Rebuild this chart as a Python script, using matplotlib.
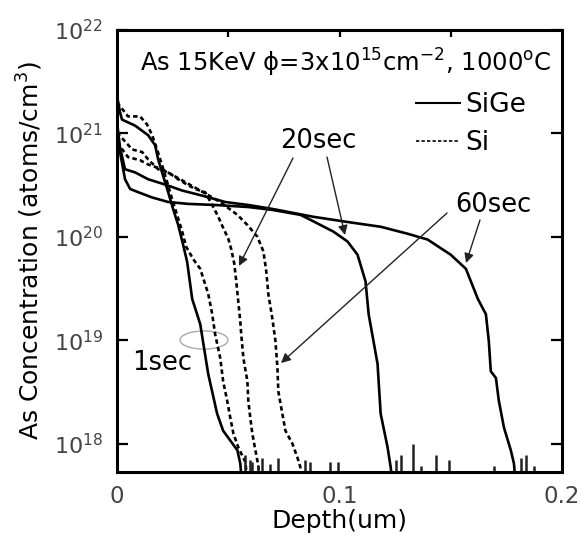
import matplotlib
matplotlib.use("Agg")
import matplotlib.pyplot as plt
from matplotlib.lines import Line2D
from matplotlib.patches import Ellipse

plt.rcParams['font.family'] = ['DejaVu Sans']
plt.rcParams['mathtext.fontset'] = 'dejavusans'
plt.rcParams['mathtext.default'] = 'regular'

# ---------------- data (depth in um, concentration in atoms/cm^3) ----------------
sige_1s_depth = [0, 0.00135, 0.00225, 0.0081, 0.0140, 0.0171, 0.0185, 0.0207, 0.0230, 0.0252,
                 0.0275, 0.0297, 0.0315, 0.0338, 0.0374, 0.0410, 0.0450, 0.0477, 0.0541, 0.0554, 0.0560]
sige_1s_conc = [2.3e21, 1.6e21, 1.36e21, 1.19e21, 9.6e20, 7.7e20, 5.6e20, 3.9e20, 2.7e20, 1.86e20,
                1.3e20, 8.4e19, 5.75e19, 2.5e19, 1.43e19, 4.7e18, 1.94e18, 1.33e18, 8.6e17, 6.4e17, 4.5e17]

sige_20s_depth = [0, 0.00135, 0.0036, 0.0059, 0.0095, 0.0158, 0.0230, 0.0320, 0.0441, 0.0590, 0.0698,
                  0.0824, 0.0869, 0.0973, 0.1036, 0.1081, 0.1117, 0.1131, 0.1171, 0.1185, 0.1216, 0.1230, 0.1236]
sige_20s_conc = [1.02e21, 6.6e20, 3.6e20, 2.9e20, 2.7e20, 2.4e20, 2.17e20, 2.08e20, 2.03e20, 1.94e20, 1.82e20,
                 1.63e20, 1.46e20, 1.12e20, 9.0e19, 6.7e19, 3.7e19, 1.78e19, 5.9e18, 1.94e18, 9.2e17, 5.9e17, 4.5e17]

sige_60s_depth = [0, 0.00135, 0.0036, 0.0081, 0.0140, 0.0216, 0.0293, 0.0383, 0.0486, 0.0590, 0.0698,
                  0.0883, 0.1036, 0.1185, 0.1306, 0.1396, 0.1500, 0.1568, 0.1622, 0.1658, 0.1671, 0.1680,
                  0.1703, 0.1716, 0.1739, 0.1770, 0.1784, 0.1790]
sige_60s_conc = [1.28e21, 7.3e20, 4.5e20, 4.2e20, 3.6e20, 3.2e20, 2.8e20, 2.5e20, 2.17e20, 2.03e20, 1.86e20,
                 1.56e20, 1.39e20, 1.25e20, 1.07e20, 9.4e19, 6.7e19, 4.9e19, 2.5e19, 1.78e19, 9.8e18, 5.0e18,
                 4.3e18, 2.6e18, 1.43e18, 8.6e17, 6.4e17, 4.5e17]

si_1s_depth = [0, 0.00495, 0.01036, 0.0135, 0.0158, 0.0180, 0.0203, 0.0225, 0.0248, 0.0270, 0.0293, 0.0311,
               0.0342, 0.0374, 0.0410, 0.0428, 0.0441, 0.0464, 0.0477, 0.0495, 0.0509, 0.0523, 0.0545, 0.0577, 0.0585]
si_1s_conc = [2.0e21, 1.46e21, 1.46e21, 1.22e21, 9.6e20, 7.0e20, 4.9e20, 3.4e20, 2.3e20, 1.63e20, 1.12e20, 8.0e19,
              6.1e19, 4.9e19, 2.8e19, 1.78e19, 1.14e19, 6.7e18, 4.0e18, 2.6e18, 1.78e18, 1.25e18, 9.2e17, 6.6e17, 4.5e17]

si_20s_depth = [0, 0.0068, 0.0113, 0.0140, 0.0185, 0.0230, 0.0275, 0.0315, 0.0351, 0.0396, 0.0428, 0.0455,
                0.0477, 0.0500, 0.0514, 0.0527, 0.0536, 0.0545, 0.0554, 0.0559, 0.0568, 0.0586, 0.0590, 0.0599,
                0.0608, 0.0622, 0.0635, 0.0641]
si_20s_conc = [1.02e21, 7.0e20, 6.6e20, 5.6e20, 4.5e20, 4.2e20, 3.6e20, 3.2e20, 2.9e20, 2.7e20, 2.03e20, 1.56e20,
               1.22e20, 9.6e19, 7.5e19, 5.5e19, 3.7e19, 2.37e19, 1.52e19, 1.09e19, 6.7e18, 4.0e18, 2.6e18, 1.78e18,
               1.25e18, 8.6e17, 6.1e17, 4.5e17]

si_60s_depth = [0, 0.00495, 0.01036, 0.0140, 0.0203, 0.0284, 0.0374, 0.0464, 0.0541, 0.0586, 0.0631, 0.0658,
                0.0671, 0.0680, 0.0698, 0.0712, 0.0721, 0.0725, 0.0743, 0.0757, 0.0788, 0.0811, 0.0824, 0.0830]
si_60s_conc = [8.2e20, 5.9e20, 5.5e20, 5.0e20, 4.5e20, 3.6e20, 2.8e20, 2.17e20, 1.63e20, 1.30e20, 1.0e20, 7.2e19,
               4.6e19, 2.8e19, 1.63e19, 9.8e18, 5.4e18, 3.2e18, 1.94e18, 1.33e18, 1.0e18, 7.3e17, 5.9e17, 4.5e17]

# detection-limit noise spikes at the bottom of the profiles
noise_depth = [0.0577, 0.0599, 0.0608, 0.0635, 0.0653, 0.0689, 0.0725, 0.0847, 0.0869, 0.0959, 0.0991,
               0.1252, 0.1275, 0.1329, 0.1365, 0.1432, 0.1491, 0.1694, 0.1815, 0.1838, 0.1874]
noise_conc = [7.7e17, 6.9e17, 6.6e17, 6.0e17, 7.3e17, 6.3e17, 7.3e17, 6.9e17, 6.6e17, 6.6e17, 6.6e17,
              6.9e17, 7.7e17, 1.0e18, 6.1e17, 7.7e17, 6.9e17, 6.0e17, 7.3e17, 7.7e17, 6.1e17]

ylim = (5.3e17, 1e22)
xlim = (0, 0.2)

# ---------------- figure ----------------
fig = plt.figure(figsize=(5.81, 5.41), dpi=100)
ax = fig.add_axes([0.2014, 0.1275, 0.7659, 0.817])
ax.set_yscale('log')
ax.set_xlim(*xlim)
ax.set_ylim(*ylim)

solid_kw = dict(color='black', lw=1.9, solid_joinstyle='round')
dash_kw = dict(color='black', lw=1.9, linestyle=(0, (1.7, 1.2)))

ax.plot(sige_1s_depth, sige_1s_conc, **solid_kw)
ax.plot(sige_20s_depth, sige_20s_conc, **solid_kw)
ax.plot(sige_60s_depth, sige_60s_conc, **solid_kw)
ax.plot(si_1s_depth, si_1s_conc, **dash_kw)
ax.plot(si_20s_depth, si_20s_conc, **dash_kw)
ax.plot(si_60s_depth, si_60s_conc, **dash_kw)
ax.vlines(noise_depth, ylim[0], noise_conc, color='#222222', lw=1.8)

# ticks
ax.set_xticks([0, 0.1, 0.2])
ax.set_xticklabels(['0', '0.1', '0.2'])
ax.set_yticks([1e18, 1e19, 1e20, 1e21, 1e22])
ax.set_yticklabels([r'$10^{18}$', r'$10^{19}$', r'$10^{20}$', r'$10^{21}$', r'$10^{22}$'])
ax.minorticks_off()
ax.tick_params(axis='x', which='major', bottom=True, top=False, length=0, pad=9,
               labelsize=16.5, labelcolor='#444444')
ax.tick_params(axis='y', which='major', left=True, right=True, direction='in', length=8, width=1.6,
               pad=10, labelsize=16, labelcolor='#444444')
# top ticks (no labels)
sec = ax.secondary_xaxis('top')
sec.set_xticks([0.05, 0.1, 0.15])
sec.tick_params(direction='in', length=5, width=1.6, labelsize=0, labeltop=False)
sec.spines['top'].set_visible(False)

for s in ax.spines.values():
    s.set_linewidth(2.2)

ax.set_xlabel('Depth(um)', fontsize=18, labelpad=1)
ax.set_ylabel(r'As Concentration (atoms/cm$^{3}$)', fontsize=18, labelpad=6)

# header text
ax.text(0.052, 0.905, r'As 15KeV ϕ=3x10$^{15}$cm$^{-2}$, 1000$^{o}$C', transform=ax.transAxes,
        fontsize=17.5, va='baseline', ha='left')

# legend
handles = [Line2D([], [], color='black', lw=1.5),
           Line2D([], [], color='black', lw=1.2, linestyle=(0, (2, 1.3)))]
ax.legend(handles, ['SiGe', 'Si'], loc='upper left', bbox_to_anchor=(0.672, 0.859), frameon=False,
          fontsize=19, handlelength=1.65, handletextpad=0.2, labelspacing=0.45, borderpad=0,
          borderaxespad=0)

# annotations
ax.text(0.366, 0.749, '20sec', transform=ax.transAxes, fontsize=18.5, va='center', ha='left')
ax.text(0.760, 0.604, '60sec', transform=ax.transAxes, fontsize=18.5, va='center', ha='left')
ax.text(0.034, 0.247, '1sec', transform=ax.transAxes, fontsize=18.5, va='center', ha='left')

arrow_kw = dict(arrowstyle='-|>', color='#222222', lw=1.0, mutation_scale=14, shrinkA=0, shrinkB=0)
arrows = [((0.3955, 0.7104), (0.2740, 0.4661)),
          ((0.4719, 0.7127), (0.5124, 0.5362)),
          ((0.7416, 0.5860), (0.3685, 0.2466)),
          ((0.8157, 0.5701), (0.7843, 0.4729))]
for start, end in arrows:
    ax.annotate('', xy=end, xytext=start, xycoords='axes fraction', textcoords='axes fraction',
                arrowprops=arrow_kw)

ax.add_patch(Ellipse((0.1955, 0.2986), 0.108, 0.041, transform=ax.transAxes,
                     fill=False, edgecolor='#aaaaaa', lw=1.0))

fig.savefig('out.png', dpi=100)
